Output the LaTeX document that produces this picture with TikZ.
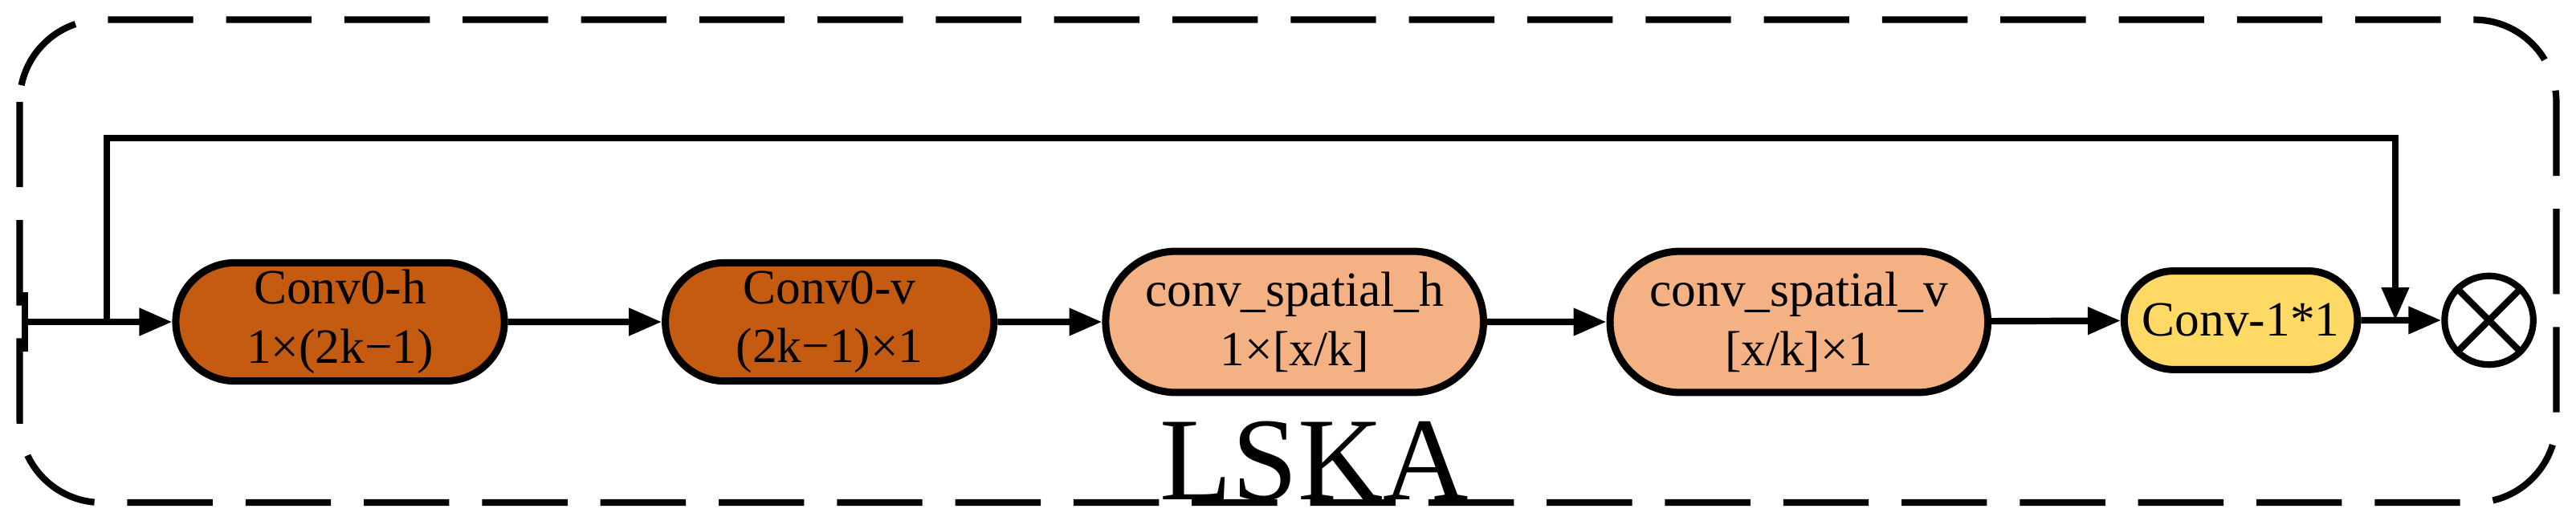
\documentclass[tikz,border=0pt]{standalone}
\usepackage{fontspec}
\setmainfont{Liberation Serif}
\usetikzlibrary{arrows.meta,shapes.misc}
\definecolor{dark}{HTML}{C55A11}
\definecolor{light}{HTML}{F4B183}
\definecolor{yel}{HTML}{FFD966}
\begin{document}
\begin{tikzpicture}[x=0.5pt,y=-0.5pt,
  blk/.style={rounded rectangle,draw,line width=2.2pt,align=center,font=\fontsize{15}{18}\selectfont,inner sep=0pt},
  arr/.style={line width=2pt,-{Triangle[length=10pt,width=8pt]}},
  ln/.style={line width=2pt}]
\useasboundingbox (0,0) rectangle (1568,322);
\draw[line width=2pt,dash pattern=on 26pt off 10pt,rounded corners=25pt] (12,12) rectangle (1556,306);
\node[blk,fill=dark,minimum width=100pt,minimum height=36pt] (a) at (207,196) {Conv0-h\\1×(2k−1)};
\node[blk,fill=dark,minimum width=100pt,minimum height=36pt] (b) at (505,196) {Conv0-v\\(2k−1)×1};
\node[blk,fill=light,minimum width=115pt,minimum height=43pt] (c) at (788,196) {conv\_spatial\_h\\1×[x/k]};
\node[blk,fill=light,minimum width=115pt,minimum height=43pt] (d) at (1095,196) {conv\_spatial\_v\\{}[x/k]×1};
\node[blk,fill=yel,minimum width=71pt,minimum height=30pt] (e) at (1364,195) {Conv-1*1};
\node[circle,draw,line width=2pt,minimum size=27pt,inner sep=0pt] (o) at (1515,195) {};
\draw[line width=2pt] (o.north west)--(o.south east) (o.north east)--(o.south west);
\coordinate (s) at (15,196);
\coordinate (j) at (65,196);
\coordinate (m) at (1458,195);
\draw[ln] (15,178)--(15,214);
\draw[arr] (s)--(a);
\draw[arr] (a)--(b);
\draw[arr] (b)--(c);
\draw[arr] (c)--(d);
\draw[arr] (d)--(e);
\draw[arr] (e)--(o);
\draw[arr] (j)--(65,84)--(1458,84)--(m);
\node[font=\fontsize{36}{40}\selectfont] (l) at (800,281) {LSKA};
\end{tikzpicture}
\end{document}
